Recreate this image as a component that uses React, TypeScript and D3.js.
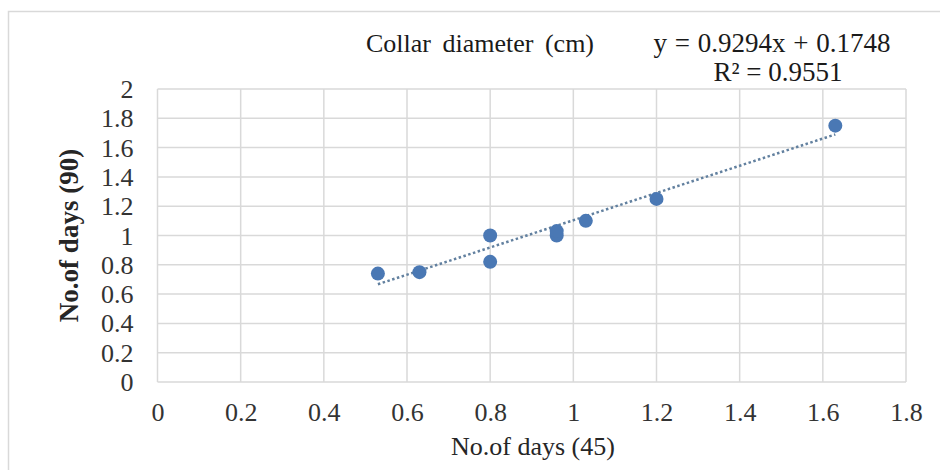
import * as d3 from 'd3';
import { useEffect, useRef } from 'react';

const xValues = [0.53, 0.63, 0.8, 0.8, 0.96, 0.96, 1.03, 1.2, 1.63];
const yValues = [0.74, 0.75, 1.0, 0.82, 1.0, 1.03, 1.1, 1.25, 1.75];
const xTicks = [0, 0.2, 0.4, 0.6, 0.8, 1, 1.2, 1.4, 1.6, 1.8];
const yTicks = [0, 0.2, 0.4, 0.6, 0.8, 1, 1.2, 1.4, 1.6, 1.8, 2];
const slope = 0.9294;
const intercept = 0.1748;

function App() {
    const svgRef = useRef<SVGSVGElement | null>(null);

    useEffect(() => {
        if (!svgRef.current) return;
        const svg = d3.select(svgRef.current);
        svg.selectAll('*').remove();

        const font = '"Liberation Serif", "Times New Roman", serif';
        const left = 157.5, right = 906, top = 89, bottom = 382;

        const x = d3.scaleLinear().domain([0, 1.8]).range([left, right]);
        const y = d3.scaleLinear().domain([0, 2]).range([bottom, top]);

        svg.append('rect')
            .attr('x', 0).attr('y', 0).attr('width', 940).attr('height', 470)
            .attr('fill', 'white');

        // outer chart frame
        svg.append('rect')
            .attr('x', 8.5).attr('y', 11.5).attr('width', 960).attr('height', 500)
            .attr('fill', 'none')
            .attr('stroke', '#d9d9d9')
            .attr('stroke-width', 1.5);

        // grid
        svg.append('g').selectAll('line')
            .data(yTicks)
            .enter().append('line')
            .attr('x1', left).attr('x2', right)
            .attr('y1', d => y(d)).attr('y2', d => y(d))
            .attr('stroke', '#d9d9d9').attr('stroke-width', 1.5);

        svg.append('g').selectAll('line')
            .data(xTicks)
            .enter().append('line')
            .attr('y1', top).attr('y2', bottom)
            .attr('x1', d => x(d)).attr('x2', d => x(d))
            .attr('stroke', '#d9d9d9').attr('stroke-width', 1.5);

        const yAxis = svg.append('g')
            .attr('transform', `translate(${left - 10}, 0)`)
            .call(d3.axisLeft(y).tickValues(yTicks).tickSize(0).tickFormat(d => String(d)));
        yAxis.select('.domain').remove();
        yAxis.selectAll('.tick text')
            .attr('font-family', font)
            .attr('font-size', '26px')
            .attr('fill', '#333333')
            .attr('dy', '0.33em')
            .attr('x', -14);

        const xAxis = svg.append('g')
            .attr('transform', `translate(0, ${bottom + 18})`)
            .call(d3.axisBottom(x).tickValues(xTicks).tickSize(0).tickFormat(d => String(d)));
        xAxis.select('.domain').remove();
        xAxis.selectAll('.tick text')
            .attr('font-family', font)
            .attr('font-size', '26px')
            .attr('fill', '#333333');

        // trendline
        const xr = d3.extent(xValues) as [number, number];
        const trend = d3.line<number>()
            .x(d => x(d))
            .y(d => y(slope * d + intercept));
        svg.append('path')
            .datum(xr)
            .attr('d', trend)
            .attr('fill', 'none')
            .attr('stroke', '#62809f')
            .attr('stroke-width', 2.5)
            .attr('stroke-dasharray', '2.5,2.5');

        svg.append('g').selectAll('circle')
            .data(xValues)
            .enter().append('circle')
            .attr('cx', d => x(d))
            .attr('cy', (d, i) => y(yValues[i]))
            .attr('r', 7)
            .attr('fill', '#4a78b4');

        svg.append('text')
            .attr('x', 366).attr('y', 52)
            .attr('font-family', font).attr('font-size', '26px').attr('fill', '#1a1a1a')
            .attr('word-spacing', '5px')
            .text('Collar diameter (cm)');

        svg.append('text')
            .attr('x', 772).attr('y', 52)
            .attr('text-anchor', 'middle')
            .attr('font-family', font).attr('font-size', '27px').attr('fill', '#1a1a1a')
            .attr('word-spacing', '1px')
            .text('y = 0.9294x + 0.1748');

        svg.append('text')
            .attr('x', 778).attr('y', 81)
            .attr('text-anchor', 'middle')
            .attr('font-family', font).attr('font-size', '27px').attr('fill', '#1a1a1a')
            .text('R² = 0.9551');

        svg.append('text')
            .attr('x', 533).attr('y', 455)
            .attr('text-anchor', 'middle')
            .attr('font-family', font).attr('font-size', '26px').attr('fill', '#262626')
            .text('No.of days (45)');

        svg.append('text')
            .attr('transform', `translate(78, ${(top + bottom) / 2}) rotate(-90)`)
            .attr('text-anchor', 'middle')
            .attr('font-family', font).attr('font-size', '27px').attr('font-weight', 'bold')
            .attr('fill', '#262626')
            .text('No.of days (90)');
    }, []);

    return (
        <svg ref={svgRef} width={940} height={470}
            style={{ position: 'absolute', left: 0, top: 0 }} />
    );
}

export default App;
